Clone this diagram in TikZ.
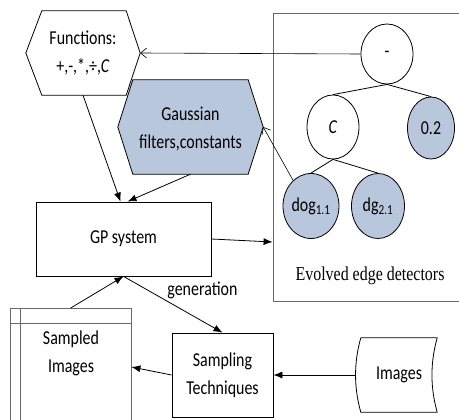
\documentclass[tikz,border=0pt]{standalone}
\usepackage{fontspec}
\setmainfont{Carlito}[FakeStretch=0.81]
\newfontfamily\timesfont{Liberation Serif}[FakeStretch=0.81]
\usetikzlibrary{shapes.geometric,arrows.meta}
\definecolor{leafblue}{RGB}{185,199,221}
\definecolor{framegray}{RGB}{105,105,105}
\begin{document}
\begin{tikzpicture}[x=1pt,y=-1pt,
    txt/.style={font=\fontsize{19.7}{28}\selectfont, align=center, inner sep=0pt},
    box/.style={txt, draw, line width=0.8pt},
    leaf/.style={txt, ellipse, draw, line width=0.8pt},
    arr/.style={-{Latex[length=9pt,width=7pt]}, line width=0.8pt},
    barb/.style={-{Straight Barb[length=6pt,width=10pt]}, line width=0.6pt}]
    \useasboundingbox (0,0) rectangle (459,420);

    % left hexagons
    \node[txt, minimum width=114pt, minimum height=84pt] (fn) at (83,53) {Functions:\\+,-,*,÷,\textit{C}};
    \draw[line width=0.8pt] (fn.west) -- ([xshift=16pt]fn.north west) -- ([xshift=-14pt]fn.north east)
        -- (fn.east) -- ([xshift=-14pt]fn.south east) -- ([xshift=16pt]fn.south west) -- cycle;
    \node[txt, minimum width=145pt, minimum height=94pt] (gauss) at (190.5,127) {};
    \draw[line width=0.8pt, fill=leafblue] (gauss.west) -- ([xshift=15pt]gauss.north west) -- ([xshift=-15pt]gauss.north east)
        -- (gauss.east) -- ([xshift=-15pt]gauss.south east) -- ([xshift=15pt]gauss.south west) -- cycle;
    \node[txt] (gausslab) at (190.5,129) {Gaussian\\filters,constants};

    % boxes
    \node[box, minimum width=175pt, minimum height=74pt] (gp) at (123.5,239) {GP system};
    \node[box, minimum width=101pt, minimum height=84pt] (st) at (222.5,375) {Sampling\\Techniques};
    \node[txt, minimum width=121pt, minimum height=114pt, anchor=north west] (si) at (10,308) {};
    \node[txt] (silab) at (71,353) {Sampled\\Images};
    \draw[framegray, line width=0.8pt] (si.south west) -- (si.north west) -- (si.north east) -- (si.south east);
    \draw[framegray, line width=0.8pt] ([xshift=10pt]si.north west) -- ([xshift=10pt]si.south west);
    \draw[framegray, line width=0.8pt] ([yshift=-15pt]si.north west) -- ([yshift=-15pt]si.north east);

    % images
    \node[txt, minimum width=76pt, minimum height=74pt] (img) at (399,375) {Images};
    \draw[line width=0.8pt] (img.north west) -- (img.north east)
        .. controls +(-7,25) and +(-7,-25) .. (img.south east) -- (img.south west)
        .. controls +(-7,-25) and +(-7,25) .. (img.north west);

    % evolved tree
    \node[draw=framegray, line width=0.8pt, minimum width=189pt, minimum height=288pt, inner sep=0pt] (evo) at (367.5,157) {};
    \node[txt, font=\timesfont\fontsize{19.7}{24}\selectfont] (evolab) at (370,276) {Evolved edge detectors};
    \node[leaf, minimum width=52pt, minimum height=60pt] (minus) at (387,54) {-};
    \node[leaf, minimum width=52pt, minimum height=64pt] (c) at (333,127) {\textit{C}};
    \node[leaf, fill=leafblue, minimum width=47pt, minimum height=62pt] (r02) at (431,128) {0.2};
    \node[leaf, fill=leafblue, minimum width=56pt, minimum height=65pt] (dog) at (311,206) {dog\textsubscript{1.1}};
    \node[leaf, fill=leafblue, minimum width=53pt, minimum height=65pt] (dg) at (378,206) {dg\textsubscript{2.1}};
    \draw[line width=0.8pt] (minus.south) -- (c.north);
    \draw[line width=0.8pt] (minus.south) -- (r02.north);
    \draw[line width=0.8pt] (c.south) -- (dog.north);
    \draw[line width=0.8pt] (c.south) -- (dg.north);

    % connectors
    \draw[barb] (minus.west) -- (fn.east);
    \draw[barb] (dog.125) -- (gauss.east);
    \draw[arr] (fn.south) -- ([xshift=-3pt]gp.north);
    \draw[arr] (gauss.south) -- ([xshift=4pt]gp.north);
    \draw[arr] (gp.east) -- ([yshift=-3pt]evo.west |- gp.east);
    \draw[arr] (gp.south) -- node[txt, pos=0.5, anchor=south west, xshift=-6pt, yshift=5pt] (gen) {generation} (st.north);
    \draw[arr] (si.north) -- (gp.south);
    \draw[arr] (st.west) -- ([yshift=-59pt]si.north east);
    \draw[arr] ([xshift=-5pt]img.west) -- (st.east);
\end{tikzpicture}
\end{document}
